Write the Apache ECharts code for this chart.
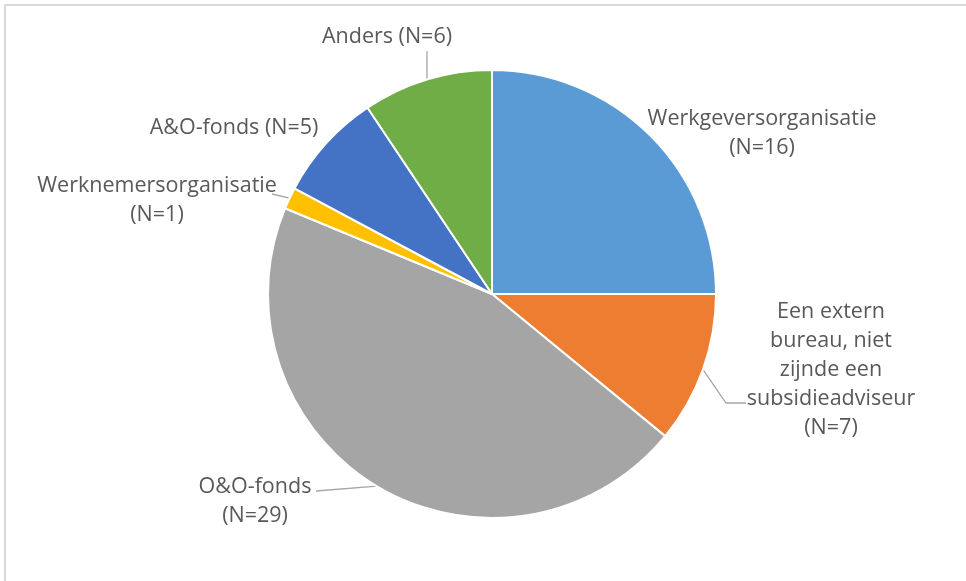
<!DOCTYPE html>
<html>
<head>
<meta charset="utf-8">
<script src="https://cdn.jsdelivr.net/npm/echarts@6/dist/echarts.min.js"></script>
<style>
html,body{margin:0;padding:0;background:#fff;}
#chart{width:966px;height:581px;}
</style>
</head>
<body>
<div id="chart"></div>
<script>
// Data
var categories = ["Werkgeversorganisatie", "Een extern\nbureau, niet\nzijnde een\nsubsidieadviseur", "O&O-fonds", "Werknemersorganisatie", "A&O-fonds", "Anders"];
var values = [16, 7, 29, 1, 5, 6];
var colors = ["#5B9BD5", "#ED7D31", "#A5A5A5", "#FFC000", "#4472C4", "#70AD47"];
// label layout (not data)
var countSeparator = ["\n", "\n", "\n", "\n", " ", " "];
var labelPos = [[762, 133], [831, 370], [255, 501], [157, 200], [234, 128], [387, 37]];
var showLine = [false, true, true, true, false, true];
// leader-line bend / end points (layout only); start point comes from the slice
var leaderBend = [null, [726, 403], null, null, null, null];
var leaderEnd = [null, [746, 403], [316, 491], [272, 194], null, [427, 51]];

var chart = echarts.init(document.getElementById('chart'), null, {renderer: 'canvas'});
var data = categories.map(function (c, i) {
  return {
    name: c,
    value: values[i],
    itemStyle: {color: colors[i]},
    labelLine: {show: showLine[i]}
  };
});
chart.setOption({
  animation: false,
  graphic: [{
    type: 'rect',
    shape: {x: 5, y: 5, width: 1000, height: 620},
    style: {fill: 'none', stroke: '#D9D9D9', lineWidth: 2},
    silent: true
  }],
  series: [{
    type: 'pie',
    center: [492, 294],
    radius: 224,
    startAngle: 90,
    clockwise: true,
    data: data,
    itemStyle: {borderColor: '#fff', borderWidth: 2},
    label: {
      show: true,
      formatter: function (p) {
        return p.name + countSeparator[p.dataIndex] + '(N=' + p.value + ')';
      },
      fontFamily: '"Open Sans", sans-serif',
      fontSize: 21.5,
      lineHeight: 29,
      color: '#595959',
      align: 'center'
    },
    labelLine: {
      lineStyle: {color: '#A6A6A6', width: 1.3},
      length: 10,
      length2: 10
    },
    labelLayout: function (params) {
      var i = params.dataIndex;
      var p = labelPos[i];
      var res = {x: p[0], y: p[1], align: 'center', verticalAlign: 'middle'};
      if (leaderEnd[i] && params.labelLinePoints) {
        var pts = [params.labelLinePoints[0]];
        if (leaderBend[i]) pts.push(leaderBend[i]);
        pts.push(leaderEnd[i]);
        res.labelLinePoints = pts;
      }
      return res;
    }
  }]
});
</script>
</body>
</html>
